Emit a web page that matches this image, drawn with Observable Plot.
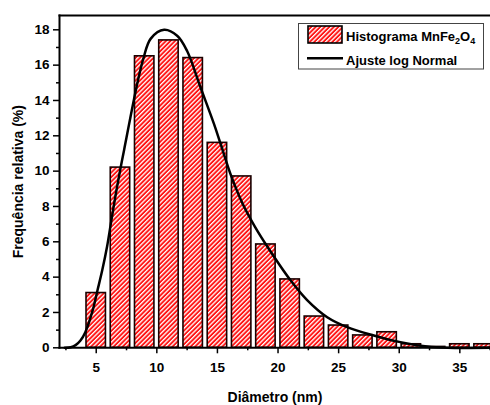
<!DOCTYPE html>
<html>
<head>
<meta charset="utf-8">
<script src="https://cdn.jsdelivr.net/npm/d3@7"></script>
<script src="https://cdn.jsdelivr.net/npm/@observablehq/plot@0.6"></script>
<style>
  html, body { margin: 0; padding: 0; background: #fff; }
  #chart { width: 490px; height: 405px; }
</style>
</head>
<body>
<div id="chart"></div>
<script>
// Histogram bin centres (nm) and relative frequencies (%)
const diameters = [5, 7, 9, 11, 13, 15, 17, 19, 21, 23, 25, 27, 29, 31, 33, 35, 37];
const freqs = [3.1, 10.2, 16.5, 17.4, 16.4, 11.6, 9.7, 5.85, 3.87, 1.77, 1.26, 0.7, 0.88, 0.2, 0.05, 0.2, 0.2];

// Log-normal fit curve
const fitX = [2.4, 2.9, 3.3, 3.7, 4.1, 4.7, 5.1, 5.5, 5.9, 6.2, 6.6, 7.0, 7.3, 8.4, 8.9, 9.5, 10.6, 11.7, 12.5, 13.6, 14.7, 15.26, 16.15, 17.05, 18.1, 19.1, 21.0, 22.4, 24.06, 25.7, 27.9, 30.1, 32.3, 34.0, 37.6];
const fitY = [0, 0.03, 0.15, 0.41, 0.88, 2.1, 3.24, 4.4, 5.75, 7.0, 8.65, 10.15, 11.2, 15.0, 16.4, 17.5, 18.0, 17.65, 16.8, 14.75, 12.7, 11.55, 9.7, 8.2, 6.85, 5.75, 3.85, 2.7, 1.73, 1.17, 0.7, 0.32, 0.07, 0, 0];

const xTicks = [5, 10, 15, 20, 25, 30, 35];
const xMinor = [2.5, 7.5, 12.5, 17.5, 22.5, 27.5, 32.5, 37.5];
const yTicks = [0, 2, 4, 6, 8, 10, 12, 14, 16, 18];
const yMinor = [1, 3, 5, 7, 9, 11, 13, 15, 17];

const legendLabels = ["Histograma MnFe", "Ajuste log Normal"];

const bars = diameters.map((d, i) => ({d, f: freqs[i]}));
const fit = fitX.map((x, i) => ({x, y: fitY[i]}));

const FONT = '"Liberation Sans", Arial, sans-serif';

const chart = Plot.plot({
  width: 490,
  height: 405,
  marginLeft: 59,
  marginRight: 0,
  marginTop: 15,
  marginBottom: 57.7,
  style: {fontFamily: FONT, fontSize: "13.5px", fontWeight: "bold", color: "#000", background: "#fff", overflow: "visible"},
  x: {domain: [1.97, 37.53]},
  y: {domain: [0, 18.81]},
  marks: [
    Plot.rectY(bars, {x1: d => d.d - 1, x2: d => d.d + 1, y: "f", insetLeft: 2.4, insetRight: 2.4,
      fill: "url(#hatch)", stroke: "#1a0000", strokeWidth: 1.6}),
    Plot.line(fit, {x: "x", y: "y", curve: "catmull-rom", stroke: "#000", strokeWidth: 2.5}),
    Plot.axisX({ticks: xTicks, tickSize: 6, tickPadding: 9, strokeWidth: 1.5, label: null}),
    Plot.axisX({ticks: xMinor, tickSize: 3, strokeWidth: 1.5, text: null, label: null}),
    Plot.axisY({ticks: yTicks, tickSize: 6, tickPadding: 4, strokeWidth: 1.5, label: null}),
    Plot.axisY({ticks: yMinor, tickSize: 3, strokeWidth: 1.5, text: null, label: null}),
    Plot.axisX({ticks: [], label: "Diâmetro (nm)", labelAnchor: "center", labelArrow: false, labelOffset: 54, fontSize: 14}),
    Plot.axisY({ticks: [], label: "Frequência relativa (%)", labelAnchor: "center", labelArrow: false, labelOffset: 46, fontSize: 14}),
    Plot.frame({anchor: "left", stroke: "#000", strokeWidth: 2}),
    Plot.frame({anchor: "bottom", stroke: "#000", strokeWidth: 2}),
    Plot.frame({anchor: "top", stroke: "#000", strokeWidth: 2})
  ]
});

// hatch pattern
const svg = d3.select(chart);
const defs = svg.insert("defs", ":first-child");
const pat = defs.append("pattern").attr("id", "hatch").attr("patternUnits", "userSpaceOnUse")
  .attr("width", 3.2).attr("height", 3.2).attr("patternTransform", "rotate(45)");
pat.append("rect").attr("width", 3.2).attr("height", 3.2).attr("fill", "#ff1414");
pat.append("rect").attr("x", 0).attr("width", 1.3).attr("height", 3.2).attr("fill", "#ffffff");

// legend
const lg = svg.append("g").attr("font-family", FONT).attr("font-weight", "bold")
  .attr("font-size", 13).attr("text-anchor", "start");
lg.append("rect").attr("x", 298.5).attr("y", 23.5).attr("width", 185).attr("height", 45.5)
  .attr("fill", "#fff").attr("stroke", "#444").attr("stroke-width", 1);
lg.append("rect").attr("x", 308).attr("y", 26).attr("width", 34).attr("height", 17)
  .attr("fill", "url(#hatch)").attr("stroke", "#000").attr("stroke-width", 1.6);
const t1 = lg.append("text").attr("x", 346).attr("y", 40.5).attr("fill", "#000");
t1.append("tspan").text(legendLabels[0]);
t1.append("tspan").attr("dy", 3).attr("font-size", 9).text("2");
t1.append("tspan").attr("dy", -3).text("O");
t1.append("tspan").attr("dy", 3).attr("font-size", 9).text("4");
lg.append("line").attr("x1", 307).attr("x2", 343).attr("y1", 58.3).attr("y2", 58.3)
  .attr("stroke", "#000").attr("stroke-width", 2.5);
lg.append("text").attr("x", 346).attr("y", 64.5).attr("fill", "#000").text(legendLabels[1]);

document.getElementById("chart").appendChild(chart);
</script>
</body>
</html>
